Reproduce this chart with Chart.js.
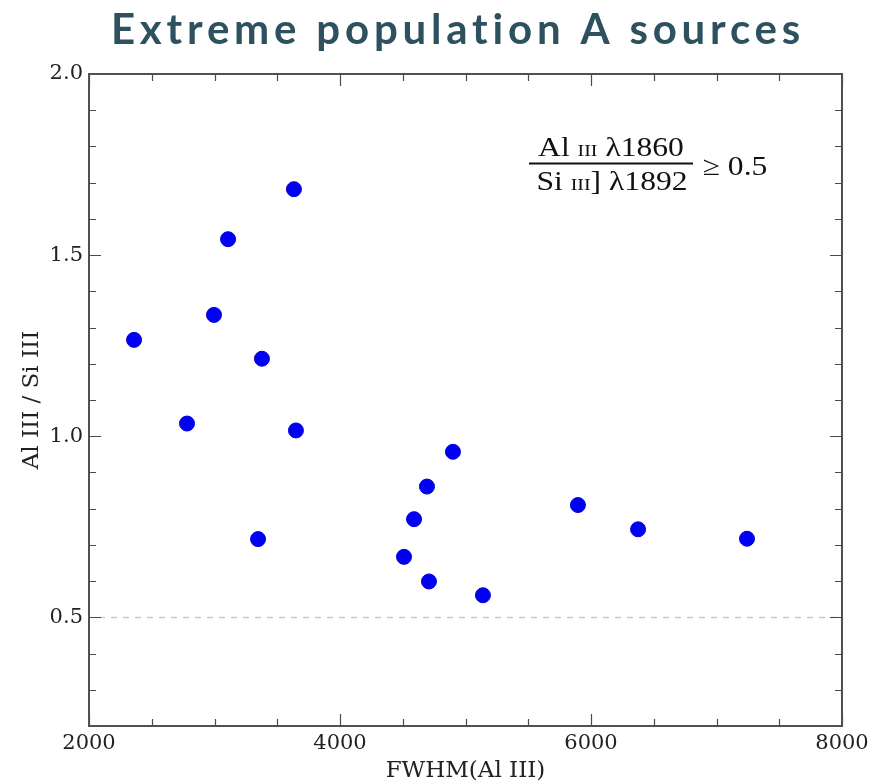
<!DOCTYPE html>
<html>
<head>
<meta charset="utf-8">
<script src="https://cdn.jsdelivr.net/npm/chart.js@4/dist/chart.umd.min.js"></script>
<style>
  html, body { margin: 0; padding: 0; background: #ffffff; }
  #wrap { width: 885px; height: 783px; }
</style>
</head>
<body>
<div id="wrap"><canvas id="c" width="885" height="783"></canvas></div>
<script>
// FWHM of Al III (km/s) for each source
const fwhmAl3 = [2359, 2781, 2996, 3108, 3633, 3378, 3649, 3347,
                 4900, 4693, 4590, 4510, 4709, 5139, 5896, 6375, 7243];
// Al III / Si III] flux ratio for the same sources
const ratioAl3Si3 = [1.266, 1.035, 1.335, 1.544, 1.682, 1.214, 1.016, 0.716,
                     0.957, 0.861, 0.771, 0.667, 0.599, 0.561, 0.810, 0.743, 0.717];

const xTickLabels = [2000, 4000, 6000, 8000];
const yTickLabels = [0.5, 1.0, 1.5, 2.0];
const xMinorStep = 500;
const yMinorStep = 0.1;
const ratioLimit = 0.5;

const chartTitle = 'Extreme population A sources';
const xAxisTitle = 'FWHM(Al III)';
const yAxisTitle = 'Al III / Si III';

const points = fwhmAl3.map((x, i) => ({ x: x, y: ratioAl3Si3[i] }));

// Frame, inward ticks, the dashed ratio limit and the headline
const framePlugin = {
  id: 'frame',
  beforeDatasetsDraw(chart) {
    const { ctx, chartArea: a, scales: { y } } = chart;
    ctx.save();
    // dashed ratio limit line
    const yl = Math.round(y.getPixelForValue(ratioLimit)) + 0.5;
    ctx.strokeStyle = '#c4c4c4';
    ctx.lineWidth = 1.3;
    ctx.setLineDash([6, 6]);
    ctx.beginPath();
    ctx.moveTo(a.left + 10, yl);
    ctx.lineTo(a.right, yl);
    ctx.stroke();
    ctx.setLineDash([]);
    ctx.restore();
  },
  afterDatasetsDraw(chart) {
    const { ctx, chartArea: a, scales: { x, y } } = chart;
    ctx.save();
    ctx.strokeStyle = '#4a4a4a';
    ctx.lineWidth = 1.2;
    const isMajor = (v, list) => list.some(t => Math.abs(t - v) < 1e-6);
    // x ticks (bottom and top)
    for (let v = x.min; v <= x.max + 1e-6; v += xMinorStep) {
      const px = Math.round(x.getPixelForValue(v)) + 0.5;
      const len = isMajor(v, xTickLabels) ? 12 : 7;
      ctx.beginPath();
      ctx.moveTo(px, a.bottom); ctx.lineTo(px, a.bottom - len);
      ctx.moveTo(px, a.top); ctx.lineTo(px, a.top + len);
      ctx.stroke();
    }
    // y ticks (left and right)
    for (let k = 0; ; k++) {
      const v = +(y.min + k * yMinorStep).toFixed(4);
      if (v > y.max + 1e-6) break;
      const py = Math.round(y.getPixelForValue(v)) + 0.5;
      const len = isMajor(v, yTickLabels) ? 12 : 7;
      ctx.beginPath();
      ctx.moveTo(a.left, py); ctx.lineTo(a.left + len, py);
      ctx.moveTo(a.right, py); ctx.lineTo(a.right - len, py);
      ctx.stroke();
    }
    // frame
    ctx.lineWidth = 2;
    ctx.strokeStyle = '#505050';
    ctx.strokeRect(a.left, a.top, a.right - a.left, a.bottom - a.top);
    ctx.restore();
  },
  afterDraw(chart) {
    const { ctx } = chart;
    ctx.save();
    // headline
    ctx.fillStyle = '#2e5160';
    ctx.font = 'bold 42px Lato';
    ctx.textAlign = 'center';
    ctx.textBaseline = 'alphabetic';
    if ('letterSpacing' in ctx) ctx.letterSpacing = '4.8px';
    ctx.fillText(chartTitle, 458, 44);
    if ('letterSpacing' in ctx) ctx.letterSpacing = '0px';

    // ratio condition in the upper right, set slightly wide
    const big = '27px "Liberation Serif"';
    const small = '17px "Liberation Serif"';
    const stretch = 1.17;
    const drawRow = (parts, cx, base) => {
      let w = 0;
      parts.forEach(p => { ctx.font = p[1]; w += ctx.measureText(p[0]).width; });
      let xx = -w / 2;
      ctx.save();
      ctx.translate(cx, base);
      ctx.scale(stretch, 1);
      ctx.textAlign = 'left';
      parts.forEach(p => { ctx.font = p[1]; ctx.fillText(p[0], xx, 0); xx += ctx.measureText(p[0]).width; });
      ctx.restore();
    };
    ctx.fillStyle = '#111';
    drawRow([['Al ', big], ['III', small], [' \u03BB1860', big]], 611, 156);
    drawRow([['Si ', big], ['III', small], ['] \u03BB1892', big]], 612, 190);
    ctx.fillRect(529, 162.5, 164, 2);
    drawRow([['\u2265 0.5', big]], 735, 175);
    ctx.restore();
  }
};

new Chart(document.getElementById('c'), {
  type: 'scatter',
  data: {
    datasets: [{
      data: points,
      backgroundColor: '#0000f5',
      borderColor: '#0000d8',
      borderWidth: 1,
      pointRadius: 7.5,
      pointHoverRadius: 7.5
    }]
  },
  options: {
    responsive: false,
    animation: false,
    events: [],
    layout: { padding: { top: 74, right: 43, left: 0, bottom: 0 } },
    plugins: { legend: { display: false }, tooltip: { enabled: false }, title: { display: false } },
    scales: {
      x: {
        type: 'linear',
        min: 2000, max: 8000,
        grid: { display: false, drawTicks: false },
        border: { display: false },
        afterBuildTicks: s => { s.ticks = xTickLabels.map(v => ({ value: v })); },
        afterFit: s => { s.height = 57; },
        ticks: {
          color: '#222',
          font: { family: 'DejaVu Serif', size: 21 },
          padding: 5,
          maxRotation: 0,
          callback: v => String(v)
        },
        title: {
          display: true,
          text: xAxisTitle,
          color: '#222',
          font: { family: 'DejaVu Serif', size: 23 },
          padding: { top: 0, bottom: -2 }
        }
      },
      y: {
        type: 'linear',
        min: 0.2, max: 2.0,
        grid: { display: false, drawTicks: false },
        border: { display: false },
        afterBuildTicks: s => { s.ticks = yTickLabels.map(v => ({ value: v })); },
        afterFit: s => { s.width = 89; },
        ticks: {
          color: '#222',
          font: { family: 'DejaVu Serif', size: 21 },
          padding: 6,
          callback: v => Number(v).toFixed(1)
        },
        title: {
          display: true,
          text: yAxisTitle,
          color: '#222',
          font: { family: 'DejaVu Serif', size: 23 },
          padding: { top: 18, bottom: 0 }
        }
      }
    }
  },
  plugins: [framePlugin]
});
</script>
</body>
</html>
